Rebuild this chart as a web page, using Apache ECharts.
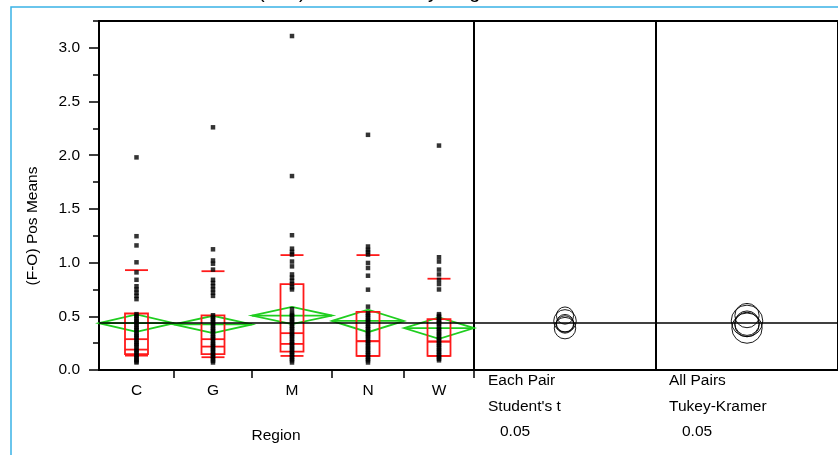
<!DOCTYPE html>
<html><head><meta charset="utf-8">
<script src="https://cdn.jsdelivr.net/npm/echarts@6.0.0/dist/echarts.min.js"></script>
<style>html,body{margin:0;padding:0;background:#fff}#c{width:838px;height:455px}</style>
</head><body><div id="c"></div>
<script>
// ---------------- data ----------------
const categories = ['C', 'G', 'M', 'N', 'W'];
const groupN = [75, 78, 80, 72, 70];            // relative group sizes (diamond widths)
const yTickValues = [0, 0.5, 1.0, 1.5, 2.0, 2.5, 3.0];
const yMinorValues = [0, 0.25, 0.5, 0.75, 1.0, 1.25, 1.5, 1.75, 2.0, 2.25, 2.5, 2.75, 3.0, 3.25];
const grandMean = 0.44;
const groupMeans = [0.436, 0.424, 0.507, 0.457, 0.390];
const meanCI95 = [0.081, 0.081, 0.080, 0.105, 0.100];
const studentRadius = [0.081, 0.081, 0.080, 0.105, 0.100];
const tukeyRadius = [0.114, 0.114, 0.113, 0.147, 0.141];
const q90 = [0.93, 0.92, 1.07, 1.07, 0.85];
const q75 = [0.526, 0.508, 0.80, 0.542, 0.474];
const qMedian = [0.287, 0.287, 0.343, 0.268, 0.265];
const qInner = [0.19, 0.218, 0.243, 0.268, 0.265];
const q25 = [0.147, 0.147, 0.171, 0.131, 0.131];
const q10 = [0.134, 0.119, 0.131, 0.131, 0.131];
const pointsC = [1.98, 1.246, 1.16, 1.003, 0.909, 0.84, 0.78, 0.75, 0.72, 0.69, 0.66,
  0.52, 0.505, 0.49, 0.47, 0.455, 0.44, 0.42, 0.40, 0.385, 0.37, 0.35, 0.33, 0.315, 0.30,
  0.28, 0.26, 0.245, 0.23, 0.21, 0.19, 0.175, 0.16, 0.14, 0.125, 0.11, 0.095, 0.08, 0.07];
const pointsG = [2.26, 1.124, 1.02, 0.99, 0.935, 0.84, 0.81, 0.78, 0.75, 0.72, 0.69,
  0.51, 0.495, 0.48, 0.46, 0.445, 0.43, 0.41, 0.39, 0.375, 0.36, 0.34, 0.32, 0.305, 0.29,
  0.27, 0.25, 0.235, 0.22, 0.20, 0.185, 0.17, 0.15, 0.135, 0.12, 0.10, 0.085, 0.07];
const pointsM = [3.11, 1.806, 1.255, 1.13, 1.10, 1.075, 1.01, 0.965, 0.89, 0.86, 0.83, 0.80, 0.77, 0.75,
  0.567, 0.53, 0.515, 0.50, 0.48, 0.465, 0.45, 0.43, 0.41, 0.395, 0.38, 0.36, 0.34, 0.325, 0.31,
  0.29, 0.27, 0.255, 0.24, 0.22, 0.205, 0.19, 0.17, 0.155, 0.14, 0.12, 0.105, 0.09, 0.07];
const pointsN = [2.19, 1.15, 1.12, 1.10, 1.075, 0.997, 0.95, 0.878, 0.748, 0.59,
  0.53, 0.515, 0.50, 0.48, 0.465, 0.45, 0.43, 0.41, 0.395, 0.38, 0.36, 0.34, 0.325, 0.31,
  0.29, 0.27, 0.255, 0.24, 0.22, 0.205, 0.19, 0.17, 0.155, 0.14, 0.12, 0.105, 0.09, 0.07];
const pointsW = [2.09, 1.05, 1.01, 0.935, 0.89, 0.84, 0.80, 0.75,
  0.52, 0.505, 0.49, 0.47, 0.455, 0.44, 0.43, 0.40, 0.385, 0.37, 0.35, 0.335, 0.32,
  0.30, 0.285, 0.27, 0.25, 0.235, 0.22, 0.20, 0.185, 0.17, 0.15, 0.135, 0.12, 0.105, 0.09];
const pointGroups = [pointsC, pointsG, pointsM, pointsN, pointsW];

// ---------------- derived ----------------
const FONT = '"Liberation Sans", Arial, sans-serif';
const GREEN = '#1fce1f';
const RED = '#ff1a1a';
const starts = [], centers = [];
let acc = 0;
groupN.forEach(n => { starts.push(acc); centers.push(acc + n / 2); acc += n; });
const total = acc;
const boundaries = groupN.map((n, i) => starts[i] + n);

const pointData = [];
pointGroups.forEach((arr, i) => arr.forEach(v => pointData.push([centers[i], v])));
const diamondData = categories.map((c, i) => [i, groupMeans[i], meanCI95[i]]);
const boxData = categories.map((c, i) => [i, q10[i], q25[i], qInner[i], qMedian[i], q75[i], q90[i]]);
const studentData = categories.map((c, i) => [0.5, groupMeans[i], studentRadius[i]]);
const tukeyData = categories.map((c, i) => [0.5, groupMeans[i], tukeyRadius[i]]);

const chart = echarts.init(document.getElementById('c'), null, {renderer: 'canvas'});
const Y_MAX = 3.25;
const gridBase = {top: 21, bottom: 85, show: true, borderColor: '#000', borderWidth: 2, containLabel: false};

function circleRender(params, api) {
  const p = api.coord([api.value(0), api.value(1)]);
  const r = api.size([0, api.value(2)])[1];
  return {type: 'circle', shape: {cx: p[0], cy: p[1], r: r},
    style: {fill: 'none', stroke: '#000', lineWidth: 0.9}};
}
const meanMark = {silent: true, symbol: 'none', label: {show: false},
  lineStyle: {color: '#000', width: 1.6, type: 'solid'}, data: [{yAxis: grandMean}], animation: false};

const option = {
  animation: false,
  grid: [
    Object.assign({left: 99, width: 375}, gridBase),
    Object.assign({left: 474, width: 182}, gridBase),
    Object.assign({left: 656, right: 0}, gridBase)
  ],
  xAxis: [
    {gridIndex: 0, type: 'value', min: 0, max: total,
      axisLine: {show: true, lineStyle: {color: '#000', width: 2}},
      axisTick: {show: true, length: 8, customValues: boundaries, lineStyle: {color: '#000', width: 1.5}},
      axisLabel: {show: true, customValues: centers, margin: 13, color: '#000', fontSize: 15.5, fontFamily: FONT,
        formatter: v => { let b = 0; centers.forEach((c, i) => { if (Math.abs(c - v) < Math.abs(centers[b] - v)) b = i; }); return categories[b]; }},
      splitLine: {show: false}},
    {gridIndex: 1, type: 'value', min: 0, max: 1, show: false},
    {gridIndex: 2, type: 'value', min: 0, max: 1, show: false}
  ],
  yAxis: [
    {gridIndex: 0, type: 'value', min: 0, max: Y_MAX,
      axisLine: {show: true, lineStyle: {color: '#000', width: 2}},
      axisTick: {show: true, length: 10, customValues: yTickValues, lineStyle: {color: '#000', width: 1.5}},
      axisLabel: {show: true, customValues: yTickValues, margin: 19, color: '#000', fontSize: 15.5, fontFamily: FONT,
        formatter: v => v.toFixed(1)},
      splitLine: {show: false}},
    {gridIndex: 0, type: 'value', min: 0, max: Y_MAX, position: 'left',
      axisLine: {show: false},
      axisTick: {show: true, length: 6, customValues: yMinorValues, lineStyle: {color: '#000', width: 1.5}},
      axisLabel: {show: false}, splitLine: {show: false}},
    {gridIndex: 1, type: 'value', min: 0, max: Y_MAX, show: false},
    {gridIndex: 2, type: 'value', min: 0, max: Y_MAX, show: false}
  ],
  series: [
    {type: 'custom', xAxisIndex: 0, yAxisIndex: 0, z: 2, data: diamondData,
      renderItem: function (params, api) {
        const i = api.value(0), m = api.value(1), ci = api.value(2);
        const xl = api.coord([starts[i], m])[0];
        const xr = api.coord([starts[i] + groupN[i], m])[0];
        const cx = api.coord([centers[i], m])[0];
        const ym = api.coord([0, m])[1], yt = api.coord([0, m + ci])[1], yb = api.coord([0, m - ci])[1];
        return {type: 'group', children: [
          {type: 'polygon', shape: {points: [[xl, ym], [cx, yt], [xr, ym], [cx, yb]]},
            style: {fill: 'none', stroke: GREEN, lineWidth: 1.8}},
          {type: 'line', shape: {x1: xl, y1: ym, x2: xr, y2: ym}, style: {stroke: GREEN, lineWidth: 1.8}}
        ]};
      }},
    {type: 'custom', xAxisIndex: 0, yAxisIndex: 0, z: 3, data: boxData, markLine: meanMark,
      renderItem: function (params, api) {
        const i = api.value(0);
        const cx = api.coord([centers[i], 0])[0];
        const y = v => api.coord([0, v])[1];
        const hw = 11.5;
        const st = {stroke: RED, lineWidth: 1.8, fill: 'none'};
        const hl = v => ({type: 'line', shape: {x1: cx - hw, y1: y(v), x2: cx + hw, y2: y(v)}, style: st});
        return {type: 'group', children: [
          {type: 'rect', shape: {x: cx - hw, y: y(api.value(5)), width: 2 * hw, height: y(api.value(2)) - y(api.value(5))}, style: st},
          hl(api.value(1)), hl(api.value(3)), hl(api.value(4)), hl(api.value(6))
        ]};
      }},
    {type: 'scatter', xAxisIndex: 0, yAxisIndex: 0, z: 4, data: pointData,
      symbol: 'rect', symbolSize: 4.5, itemStyle: {color: '#000'}, silent: true},
    {type: 'custom', xAxisIndex: 1, yAxisIndex: 2, z: 3, data: studentData, renderItem: circleRender, markLine: meanMark},
    {type: 'custom', xAxisIndex: 2, yAxisIndex: 3, z: 3, data: tukeyData, renderItem: circleRender, markLine: meanMark}
  ],
  graphic: [
    {type: 'rect', z: -10, shape: {x: 11, y: 7, width: 900, height: 600}, style: {fill: 'none', stroke: '#3ab3e6', lineWidth: 1.5}},
    {type: 'text', x: 258, y: 2, style: {text: '(F-O) Pos Means by Region', font: '20px ' + FONT, fill: '#000', textAlign: 'left', textVerticalAlign: 'bottom', align: 'left', verticalAlign: 'bottom'}},
    {type: 'text', x: 33, y: 226, rotation: Math.PI / 2, style: {text: '(F-O) Pos Means', font: '15.5px ' + FONT, fill: '#000', textAlign: 'center', textVerticalAlign: 'middle', align: 'center', verticalAlign: 'middle'}},
    {type: 'text', x: 276, y: 436, style: {text: 'Region', font: '15.5px ' + FONT, fill: '#000', textAlign: 'center', textVerticalAlign: 'middle', align: 'center', verticalAlign: 'middle'}},
    {type: 'text', x: 488, y: 381, style: {text: 'Each Pair', font: '15.5px ' + FONT, fill: '#000', textAlign: 'left', textVerticalAlign: 'middle', align: 'left', verticalAlign: 'middle'}},
    {type: 'text', x: 488, y: 407, style: {text: "Student's t", font: '15.5px ' + FONT, fill: '#000', textAlign: 'left', textVerticalAlign: 'middle', align: 'left', verticalAlign: 'middle'}},
    {type: 'text', x: 500, y: 432, style: {text: '0.05', font: '15.5px ' + FONT, fill: '#000', textAlign: 'left', textVerticalAlign: 'middle', align: 'left', verticalAlign: 'middle'}},
    {type: 'text', x: 669, y: 381, style: {text: 'All Pairs', font: '15.5px ' + FONT, fill: '#000', textAlign: 'left', textVerticalAlign: 'middle', align: 'left', verticalAlign: 'middle'}},
    {type: 'text', x: 669, y: 407, style: {text: 'Tukey-Kramer', font: '15.5px ' + FONT, fill: '#000', textAlign: 'left', textVerticalAlign: 'middle', align: 'left', verticalAlign: 'middle'}},
    {type: 'text', x: 682, y: 432, style: {text: '0.05', font: '15.5px ' + FONT, fill: '#000', textAlign: 'left', textVerticalAlign: 'middle', align: 'left', verticalAlign: 'middle'}}
  ]
};
chart.setOption(option);
</script>
</body></html>
